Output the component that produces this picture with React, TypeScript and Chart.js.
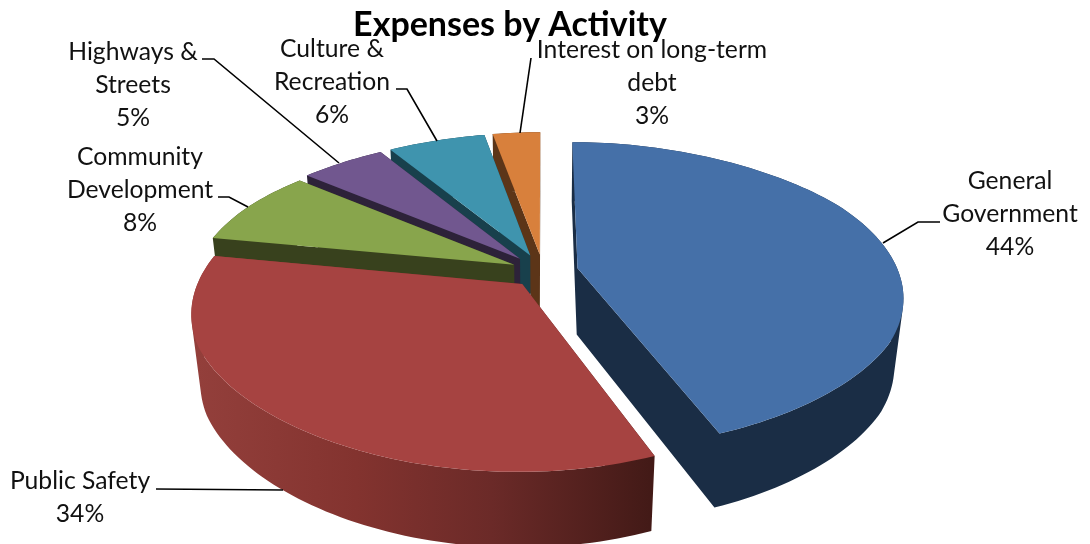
import React, { useEffect, useRef } from "react";
import { Chart, registerables } from "chart.js";

Chart.register(...registerables);

// Chart content
const chartTitle = "Expenses by Activity";
const activities = [
  "General Government",
  "Public Safety",
  "Community Development",
  "Highways & Streets",
  "Culture & Recreation",
  "Interest on long-term debt",
];
const expenseShares = [44, 34, 8, 5, 6, 3];

// Colours of the top faces and of the extruded walls
const topColors = ["#4570A8", "#A64341", "#88A54C", "#71578F", "#3F94AE", "#D8803C"];
const wallColors = ["#1A2D45", "#7A302D", "#38411D", "#2D2239", "#18404C", "#5C3518"];
const redWallStops: [number, string][] = [
  [0, "#933F3B"],
  [0.35, "#83332F"],
  [0.65, "#6B2A28"],
  [1, "#431A17"],
];

// Projection of the disc: perspective tilt with a centre, radii and extrusion height
const VIEW = { cx: 543, cy: 271.5, rx: 319, ry: 149.6, tilt: 0.178, shrink: 0.025, depth: 68, pinch: 0.05 };

// Explosion distance per slice as a fraction of the pie radius
const explosionFractions = [0.11, 0.1, 0.1, 0.11, 0.11, 0.11];

// Wrapped label text with its centre, line rows and leader polyline
const LINE_HEIGHT = 32.8;
const labelLayout = [
  { lines: ["General", "Government"], x: 1010, y: 181, leader: [[940, 222], [918, 222], [883, 243]] },
  { lines: ["Public Safety"], x: 80, y: 481, leader: [[156, 489], [283, 490]] },
  { lines: ["Community", "Development"], x: 140, y: 157, leader: [[218, 197], [229, 197], [248, 207]] },
  { lines: ["Highways &", "Streets"], x: 133, y: 52, leader: [[202, 59], [214, 59], [339, 163]] },
  { lines: ["Culture &", "Recreation"], x: 332, y: 49, leader: [[396, 89], [407, 89], [437, 141]] },
  { lines: ["Interest on long-term", "debt"], x: 652, y: 50, leader: [[531, 58], [520, 133]] },
];

type Pt = { x: number; y: number };

const project = (u: number, v: number, h: number): Pt => {
  const w = 1 + VIEW.tilt * v + VIEW.shrink * h;
  const pinched = u * (1 - VIEW.pinch * (1 - Math.min(1, u * u)));
  return {
    x: VIEW.cx + (VIEW.rx * pinched) / w,
    y: VIEW.cy + (-VIEW.ry * v + VIEW.depth * h) / w,
  };
};

const addPolygon = (ctx: CanvasRenderingContext2D, pts: Pt[]) => {
  // Consistent winding keeps overlapping polygons solid under the nonzero fill rule
  let area = 0;
  pts.forEach((p, i) => {
    const q = pts[(i + 1) % pts.length];
    area += p.x * q.y - q.x * p.y;
  });
  const ordered = area < 0 ? [...pts].reverse() : pts;
  ordered.forEach((p, i) => (i ? ctx.lineTo(p.x, p.y) : ctx.moveTo(p.x, p.y)));
  ctx.closePath();
};

// Draws the pie slices as extruded wedges, back to front, from the arc elements' angles
const extrudedPie = {
  id: "extrudedPie",
  beforeDatasetsDraw(chart: any) {
    const ctx: CanvasRenderingContext2D = chart.ctx;
    const arcs = chart.getDatasetMeta(0).data;
    for (let i = arcs.length - 1; i >= 0; i--) {
      const arc = arcs[i];
      const { startAngle, endAngle, outerRadius } = arc.getProps(
        ["startAngle", "endAngle", "outerRadius"],
        true,
      );
      const mid = (startAngle + endAngle) / 2;
      const off = arc.options.offset / outerRadius;
      const ou = off * Math.cos(mid);
      const ov = -off * Math.sin(mid);
      const steps = Math.max(8, Math.ceil((endAngle - startAngle) * 40));
      const rim = (h: number) => {
        const pts: Pt[] = [];
        for (let s = 0; s <= steps; s++) {
          const a = startAngle + ((endAngle - startAngle) * s) / steps;
          pts.push(project(ou + Math.cos(a), ov - Math.sin(a), h));
        }
        return pts;
      };
      const topRim = rim(0);
      const lowRim = rim(1);
      const apexTop = project(ou, ov, 0);
      const apexLow = project(ou, ov, 1);

      let wallFill: string | CanvasGradient = wallColors[i];
      if (i === 1) {
        const g = ctx.createLinearGradient(VIEW.cx - 345, 0, 650, 0);
        redWallStops.forEach(([p, c]) => g.addColorStop(p, c));
        wallFill = g;
      }
      // Radial walls plus a strip of quads along the rim, filled as one shape
      ctx.fillStyle = wallFill;
      ctx.beginPath();
      addPolygon(ctx, [apexTop, topRim[0], lowRim[0], apexLow]);
      addPolygon(ctx, [apexTop, topRim[steps], lowRim[steps], apexLow]);
      for (let s = 0; s < steps; s++) {
        addPolygon(ctx, [topRim[s], topRim[s + 1], lowRim[s + 1], lowRim[s]]);
      }
      ctx.fill();

      ctx.fillStyle = arc.options.backgroundColor;
      ctx.beginPath();
      addPolygon(ctx, [apexTop, ...topRim]);
      ctx.fill();
    }
    return false;
  },
  afterDraw(chart: any) {
    const ctx: CanvasRenderingContext2D = chart.ctx;
    ctx.save();
    ctx.font = "24.7px Lato";
    ctx.textAlign = "center";
    ctx.textBaseline = "middle";
    ctx.fillStyle = "#111111";
    ctx.strokeStyle = "#000000";
    ctx.lineWidth = 1.6;
    labelLayout.forEach((lab, i) => {
      const rows = [...lab.lines, `${expenseShares[i]}%`];
      rows.forEach((t, r) => ctx.fillText(t, lab.x, lab.y + r * LINE_HEIGHT));
      ctx.beginPath();
      lab.leader.forEach(([x, y], k) => (k ? ctx.lineTo(x, y) : ctx.moveTo(x, y)));
      ctx.stroke();
    });
    ctx.restore();
  },
};

export default function App() {
  const ref = useRef<HTMLCanvasElement | null>(null);
  useEffect(() => {
    const chart = new Chart(ref.current as HTMLCanvasElement, {
      type: "pie",
      data: {
        labels: activities,
        datasets: [
          {
            data: expenseShares,
            backgroundColor: topColors,
            borderWidth: 0,
            offset: (c: any) =>
              explosionFractions[c.dataIndex] *
              (c.chart.chartArea ? Math.min(c.chart.chartArea.width, c.chart.chartArea.height) / 2 : 200),
          },
        ],
      },
      options: {
        responsive: false,
        animation: false,
        layout: { padding: { left: 0, right: 70, top: 5, bottom: 0 } },
        plugins: {
          legend: { display: false },
          tooltip: { enabled: false },
          title: {
            display: true,
            text: chartTitle,
            color: "#000000",
            font: { family: "Lato", size: 34, weight: "bold" },
            padding: { top: 0, bottom: 4 },
          },
        },
      },
      plugins: [extrudedPie],
    } as any);
    return () => chart.destroy();
  }, []);
  return (
    <div style={{ position: "absolute", left: 0, top: 0, width: 1090, height: 544, background: "#fff" }}>
      <canvas ref={ref} width={1090} height={544} style={{ display: "block" }} />
    </div>
  );
}
